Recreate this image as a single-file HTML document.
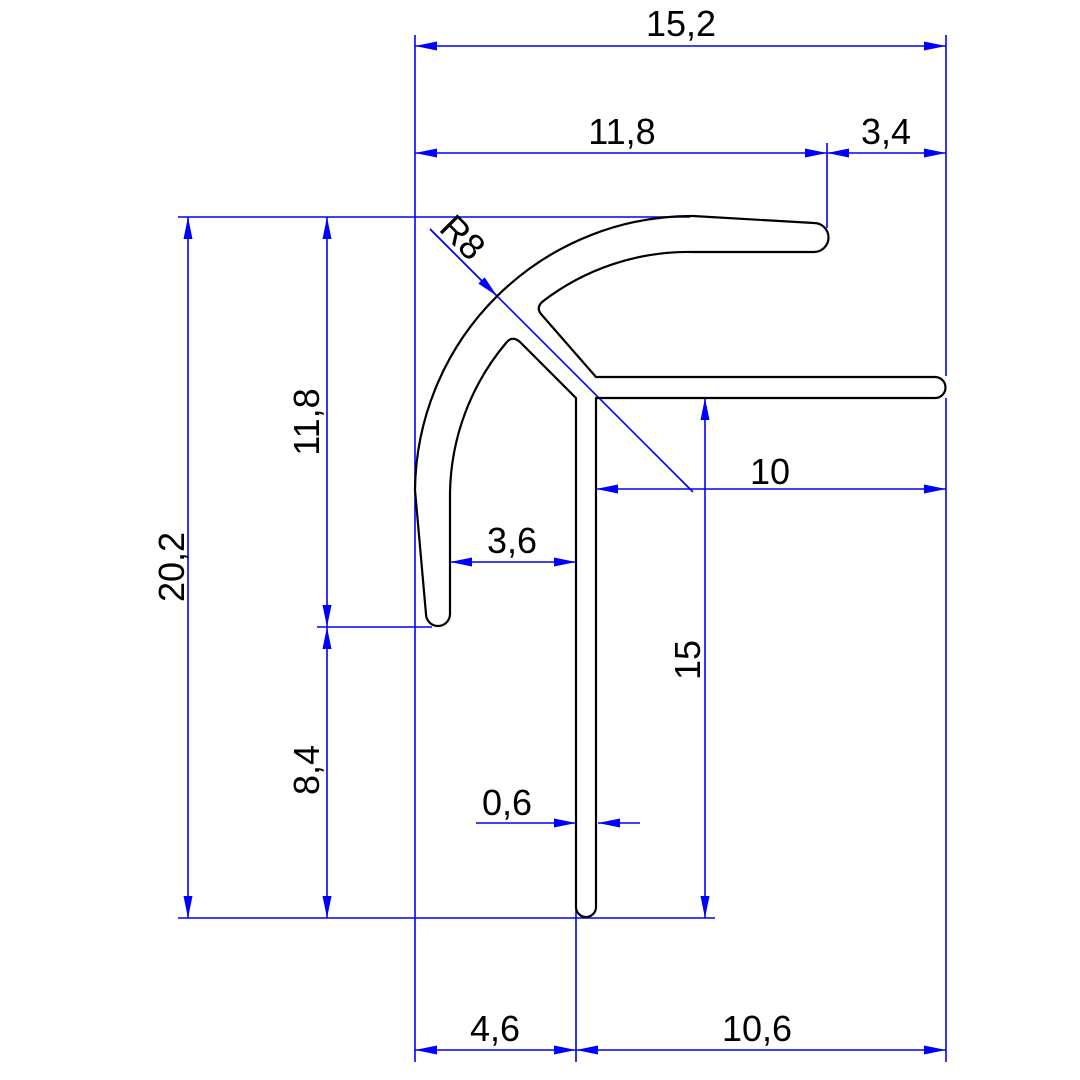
<!DOCTYPE html>
<html><head><meta charset="utf-8"><style>
html,body{margin:0;padding:0;background:#fff}
svg{display:block}
text{font-family:"Liberation Sans",Arial,sans-serif;font-size:36px;fill:#000}
</style></head><body>
<svg width="1080" height="1080" viewBox="0 0 1080 1080" xmlns="http://www.w3.org/2000/svg">
<defs>
<marker id="a" viewBox="0 0 22 9" refX="22" refY="4.5" markerWidth="22" markerHeight="9" markerUnits="userSpaceOnUse" orient="auto-start-reverse">
<path d="M0,0 L22,4.5 L0,9 Z" fill="#0000ff"/>
</marker>
</defs>
<g stroke="#0000ff" stroke-width="1.6" fill="none">
<line x1="415" y1="35" x2="415" y2="1062"/>
<line x1="946" y1="35" x2="946" y2="376"/>
<line x1="946" y1="398" x2="946" y2="1062"/>
<line x1="827" y1="143" x2="827" y2="228"/>
<line x1="576" y1="400" x2="576" y2="1062"/>
<line x1="178" y1="217" x2="690" y2="217"/>
<line x1="178" y1="918" x2="715" y2="918"/>
<line x1="317" y1="627" x2="432" y2="627"/>
<line x1="415" y1="46" x2="946" y2="46" marker-start="url(#a)" marker-end="url(#a)"/>
<line x1="415" y1="153" x2="827" y2="153" marker-start="url(#a)" marker-end="url(#a)"/>
<line x1="827" y1="153" x2="946" y2="153" marker-start="url(#a)" marker-end="url(#a)"/>
<line x1="188" y1="217" x2="188" y2="918" marker-start="url(#a)" marker-end="url(#a)"/>
<line x1="327" y1="217" x2="327" y2="627" marker-start="url(#a)" marker-end="url(#a)"/>
<line x1="327" y1="627" x2="327" y2="918" marker-start="url(#a)" marker-end="url(#a)"/>
<line x1="450" y1="562" x2="576" y2="562" marker-start="url(#a)" marker-end="url(#a)"/>
<line x1="596" y1="489" x2="946" y2="489" marker-start="url(#a)" marker-end="url(#a)"/>
<line x1="705" y1="398" x2="705" y2="918" marker-start="url(#a)" marker-end="url(#a)"/>
<line x1="476" y1="823" x2="576" y2="823" marker-end="url(#a)"/>
<line x1="640" y1="823" x2="598" y2="823" marker-end="url(#a)"/>
<line x1="415" y1="1050" x2="576" y2="1050" marker-start="url(#a)" marker-end="url(#a)"/>
<line x1="576" y1="1050" x2="946" y2="1050" marker-start="url(#a)" marker-end="url(#a)"/>
<line x1="430" y1="229" x2="693" y2="492"/>
<line x1="430" y1="229" x2="497" y2="296" marker-end="url(#a)"/>
</g>
<g stroke="#000" stroke-width="2.2" fill="none" stroke-linejoin="round">
<path d="M426,614 L415,490 A277,277 0 0 1 693,216 L814,223 A14.5,14.5 0 0 1 814,252 L693,252
 A239,239 0 0 0 542,302 Q536,308 541,314 L596,377 L935,377 A10.5,10.5 0 0 1 935,398 L596,398 L596,907
 A10,10 0 0 1 576,907 L576,398 L520,342 Q512,335 506,343 A239,239 0 0 0 450,493 L450,614 A12,12 0 0 1 426,614 Z"/>
</g>
<text x="681" y="36" text-anchor="middle">15,2</text>
<text x="622" y="144" text-anchor="middle">11,8</text>
<text x="886" y="144" text-anchor="middle">3,4</text>
<text x="770" y="484" text-anchor="middle">10</text>
<text x="512" y="553" text-anchor="middle">3,6</text>
<text x="507" y="815" text-anchor="middle">0,6</text>
<text x="495" y="1041" text-anchor="middle">4,6</text>
<text x="757" y="1041" text-anchor="middle">10,6</text>
<text transform="translate(184,567) rotate(-90)" text-anchor="middle">20,2</text>
<text transform="translate(319,422) rotate(-90)" text-anchor="middle">11,8</text>
<text transform="translate(319,770) rotate(-90)" text-anchor="middle">8,4</text>
<text transform="translate(700,660) rotate(-90)" text-anchor="middle">15</text>
<text transform="translate(454,246) rotate(45)" text-anchor="middle">R8</text>
</svg>
</body></html>
